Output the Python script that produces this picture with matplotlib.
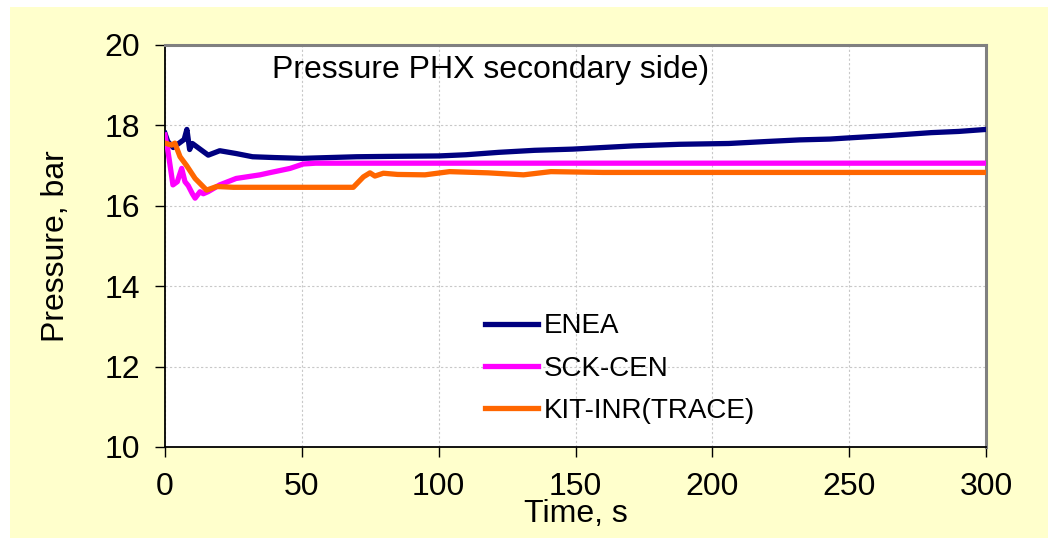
import numpy as np
import matplotlib.pyplot as plt
from matplotlib.patches import Rectangle

plt.rcParams['font.family'] = ['Liberation Sans', 'DejaVu Sans']

# ENEA
t_enea = [0, 1, 3, 5, 7, 8, 9, 10, 12, 15.8, 20, 26, 32, 40, 50, 60, 70, 83, 100, 110,
          122, 135, 149, 160, 171, 188, 206, 220, 232, 243, 250, 265, 280, 290, 300]
p_enea = [17.8, 17.6, 17.45, 17.55, 17.65, 17.9, 17.4, 17.55, 17.45, 17.26, 17.37, 17.3,
          17.22, 17.2, 17.18, 17.2, 17.22, 17.23, 17.24, 17.27, 17.33, 17.38, 17.41, 17.45,
          17.49, 17.53, 17.55, 17.6, 17.64, 17.66, 17.69, 17.75, 17.82, 17.85, 17.9]

# SCK-CEN
t_sck = [0, 1, 2.9, 4.5, 6.1, 7.3, 8.5, 10, 11, 12.8, 14, 15.7, 20, 26, 34.7, 38, 45.7,
         50.5, 55, 100, 150, 200, 250, 300]
p_sck = [17.76, 17.4, 16.52, 16.6, 16.93, 16.6, 16.5, 16.3, 16.19, 16.35, 16.3, 16.35,
         16.52, 16.68, 16.77, 16.82, 16.93, 17.04, 17.06, 17.06, 17.06, 17.06, 17.06, 17.06]

# KIT-INR(TRACE)
t_kit = [0, 2.4, 3.6, 5.5, 7.9, 11, 15.2, 18.9, 25, 68.8, 72.5, 74.9, 76.7, 79.8, 85, 95,
         104, 118, 131, 141, 160, 200, 250, 300]
p_kit = [17.56, 17.51, 17.56, 17.22, 17.0, 16.68, 16.39, 16.48, 16.46, 16.46, 16.72, 16.82,
         16.74, 16.81, 16.78, 16.77, 16.85, 16.82, 16.77, 16.85, 16.83, 16.83, 16.83, 16.83]

fig = plt.figure(figsize=(10.55, 5.44), dpi=100, facecolor='white')
# yellow panel behind the chart
fig.patches.append(Rectangle((10/1055, 6/544), 1038/1055, 531/544, transform=fig.transFigure,
                             facecolor='#FFFFCC', edgecolor='none', zorder=-10))

ax = fig.add_axes([165/1055, 97/544, 821/1055, 402/544])
ax.set_zorder(1)
ax.set_facecolor('white')

ax.plot(t_enea, p_enea, color='#000080', lw=3.8, label='ENEA', zorder=3)
ax.plot(t_sck, p_sck, color='#FF00FF', lw=3.8, label='SCK-CEN', zorder=3)
ax.plot(t_kit, p_kit, color='#FF6600', lw=3.8, label='KIT-INR(TRACE)', zorder=3)

ax.set_xlim(0, 300)
ax.set_ylim(10, 20)
ax.set_xticks(np.arange(0, 301, 50))
ax.set_yticks(np.arange(10, 21, 2))
ax.grid(True, color='#C8C8C8', linestyle=(0, (2, 2)), lw=0.8)
ax.tick_params(direction='out', length=7, width=1, labelsize=23, pad=11)

for s in ['left', 'bottom']:
    ax.spines[s].set_color('black')
    ax.spines[s].set_linewidth(1.3)
for s in ['top', 'right']:
    ax.spines[s].set_color('#808080')
    ax.spines[s].set_linewidth(2.2)

ax.set_xlabel('Time, s', fontsize=23, labelpad=-2)
ax.set_ylabel('Pressure, bar', fontsize=23, labelpad=24)

ax.text(39, 19.38, 'Pressure PHX secondary side)', fontsize=23, va='center', ha='left')

ax.legend(loc='center left', bbox_to_anchor=(0.39, 0.195), frameon=False, fontsize=20,
          handlelength=1.9, handletextpad=0.2, labelspacing=0.58, borderpad=0, borderaxespad=0)

fig.savefig('out.png', dpi=100, facecolor=fig.get_facecolor())
